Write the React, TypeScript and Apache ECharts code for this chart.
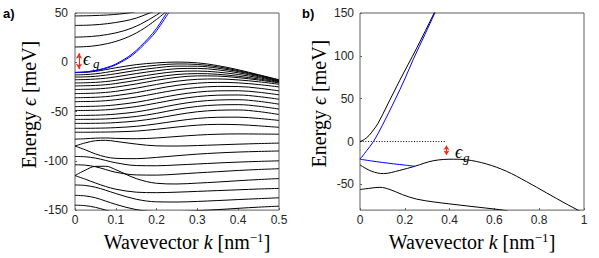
import React, { useEffect, useRef } from "react";
import * as echarts from "echarts";

// ---------- Panel a) data ----------
const K_A = [0, 0.025, 0.05, 0.075, 0.1, 0.15, 0.2, 0.25, 0.3, 0.35, 0.4, 0.45, 0.5];

const VALENCE_A: number[][] = [
  [-10.5, -10.2, -9.2, -7.5, -5.6, -2.4, -0.6, 0.2, -0.6, -3.4, -7.6, -12.6, -17.7],
  [-12.8, -12.5, -11.7, -10.3, -8.6, -5.3, -3, -1.7, -2.2, -4.6, -8.5, -13.1, -18.2],
  [-15, -14.8, -14.2, -13.1, -11.6, -8.3, -5.6, -3.9, -4, -6, -9.4, -13.7, -18.7],
  [-17.7, -17.5, -17, -16.2, -14.8, -11.5, -8.6, -6.5, -6.2, -7.7, -10.7, -14.5, -19.2],
  [-21, -20.8, -20.4, -19.6, -18.3, -15, -11.8, -9.4, -8.9, -10, -12.4, -15.6, -19.7],
  [-24, -23.8, -23.5, -22.8, -21.6, -18.4, -15, -12.4, -11.5, -12.2, -14.2, -16.9, -20.3],
  [-27.6, -27.4, -27.1, -26.4, -25.2, -22, -18.3, -15.3, -13.8, -14, -15.6, -18, -21],
  [-31.8, -31.6, -31.3, -30.6, -29.5, -26.3, -22.5, -19.2, -17.3, -16.9, -17.9, -19.8, -22.3],
  [-36, -35.8, -35.5, -34.9, -33.8, -30.8, -26.9, -23.4, -21.2, -20.4, -20.9, -22.6, -25],
  [-40, -39.8, -39.6, -39, -38, -35.3, -31.6, -28, -25.6, -24.5, -24.6, -26.3, -29],
  [-45, -44.8, -44.6, -44.1, -43.2, -40.6, -36.8, -33, -30.3, -29, -28.9, -30.4, -33],
  [-49, -48.9, -48.7, -48.3, -47.4, -45, -41.4, -37.6, -34.8, -33.4, -33.2, -34.8, -37.5],
  [-54, -53.9, -53.7, -53.3, -52.6, -50.4, -46.8, -42.8, -39.8, -38.3, -38, -39.6, -42.5],
  [-58, -57.9, -57.8, -57.5, -56.9, -55, -51.8, -47.8, -44.8, -43.3, -43, -44.6, -47.5],
  [-62, -62, -61.9, -61.7, -61.2, -59.6, -56.8, -53.2, -50.2, -48.7, -48.4, -50, -53],
  [-67, -67, -66.9, -66.7, -66.3, -65, -62.5, -59.5, -57, -55.8, -55.7, -57, -59],
  [-71, -71, -70.9, -70.8, -70.6, -69.8, -68, -65.7, -63.8, -63, -63.3, -64.5, -66],
  [-78, -77.6, -77, -76.8, -77.2, -77.6, -76.8, -75.3, -73.9, -73, -72.7, -72.8, -73],
  [-85, -81.8, -79.6, -79.2, -80.3, -83, -84.8, -85, -84.5, -83.8, -83.1, -82.5, -82],
  [-85, -88.8, -93, -96, -97.5, -97.8, -96.5, -94.8, -93.2, -92, -91.1, -90.5, -90],
  [-95.6, -95.9, -97.2, -99.6, -102, -104.8, -105, -104.2, -103.2, -102.2, -101.3, -100.6, -100],
  [-104, -104.4, -106, -108.8, -111.6, -114.3, -114.5, -113.5, -112.2, -111, -109.8, -108.8, -108],
  [-115, -109.5, -105.6, -105.5, -109, -118, -122.8, -123.5, -122.6, -121.5, -120.2, -119, -118],
  [-115, -118.6, -122.5, -126, -128.8, -131.8, -132.3, -131.8, -131, -130.2, -129.4, -128.6, -128],
  [-124.5, -125, -126.8, -129.8, -133.2, -139, -141.6, -141.8, -141.2, -140.3, -139.3, -138.4, -137.5],
  [-135, -135.6, -137.5, -140.8, -144.2, -149.5, -151.5, -151.5, -150.6, -149.5, -148.2, -147, -146],
  [-145, -145.5, -147.2, -150, -153.5, -160],
];

const CONDUCTION_A: [number, number][][] = [
  [[0, 47], [0.04, 47.3], [0.08, 48], [0.11, 49], [0.135, 50.3], [0.15, 51.5]],
  [[0, 37.4], [0.04, 37.8], [0.08, 39.2], [0.12, 41.8], [0.15, 44.8], [0.183, 50], [0.2, 52.5]],
  [[0, 25.5], [0.04, 26.2], [0.08, 28.2], [0.12, 32], [0.16, 38.5], [0.2, 48], [0.21, 50.8]],
  [[0, 15.5], [0.04, 16.3], [0.08, 19], [0.12, 24], [0.16, 32], [0.2, 43.5], [0.222, 51]],
];

const BLUE_A: [number, number][][] = [
  [[0, -10.3], [0.03, -9.6], [0.06, -7.4], [0.08, -5], [0.1, -1.8], [0.14, 8.5], [0.18, 24.5], [0.2, 34.5], [0.225, 50.5]],
  [[0, -10.3], [0.03, -9.7], [0.06, -7.7], [0.08, -5.6], [0.1, -2.6], [0.14, 7], [0.18, 22.5], [0.2, 32], [0.23, 50.5]],
];

// gap arrow (annotation) panel a: k, lower and upper energy of the tips
const GAP_A = { k: 0.0098, lo: -9.5, hi: 11.8 };

// ---------- Panel b) data ----------
const CONDUCTION_B: [number, number][] = [
  [0, 0], [0.02, 2.5], [0.04, 7], [0.06, 13.5], [0.08, 21], [0.12, 41.5], [0.178, 71.6], [0.253, 109], [0.331, 150], [0.34, 155],
];
const BLUE_COND_B: [number, number][] = [
  [0, -20.6], [0.03, -10.6], [0.06, 0], [0.1, 19], [0.156, 48.5], [0.2, 73], [0.238, 96], [0.29, 125], [0.334, 150], [0.34, 153.5],
];
const BLUE_VAL_B: [number, number][] = [
  [0, -20.6], [0.05, -22.6], [0.1, -24.4], [0.15, -26], [0.2, -27.5], [0.245, -28.8],
];
const VALENCE1_B: [number, number][] = [
  [0, -27.3], [0.052, -34.7], [0.104, -37.4], [0.178, -33.6], [0.245, -28.8], [0.327, -22.4], [0.416, -20.6],
  [0.476, -21.3], [0.565, -26.2], [0.654, -34.7], [0.743, -46.7], [0.832, -59.8], [0.921, -72.8], [0.98, -81], [1, -84],
];
const VALENCE2_B: [number, number][] = [
  [0, -56], [0.045, -54.5], [0.089, -53.4], [0.134, -56], [0.19, -62], [0.253, -67.2], [0.33, -70.5], [0.401, -72.8],
  [0.5, -75.8], [0.624, -79.5], [0.66, -81],
];
const DOTTED_B: [number, number][] = [[0, 0], [0.386, 0]];
const GAP_B = { k: 0.386, lo: -18.2, hi: -2.2 };

const Y_TICKS_B = [-50, 0, 50, 100, 150];

const RED = "#ee2a1f";
const BLUE = "#0000ff";
const FRAME = "#5e5e5e";
const SERIF = '"Liberation Serif", "DejaVu Serif", serif';
const SANS = '"Liberation Sans", Arial, Helvetica, sans-serif';

function line(data: any[], color: string, gi: number, extra: any = {}) {
  return {
    type: "line",
    data,
    xAxisIndex: gi,
    yAxisIndex: gi,
    symbol: "none",
    showSymbol: false,
    smooth: 0.35,
    silent: true,
    lineStyle: { color, width: 1 },
    z: 2,
    ...extra,
  };
}

// inset: energy distance from tip to arrow-head centre
function arrowMark(gap: { k: number; lo: number; hi: number }, inset: number, size: number[]) {
  return {
    silent: true,
    symbol: ["arrow", "arrow"],
    symbolSize: size,
    label: { show: false },
    emphasis: { disabled: true },
    lineStyle: { color: RED, width: 1.2, type: "solid" },
    itemStyle: { color: RED },
    data: [[{ coord: [gap.k, gap.lo + inset] }, { coord: [gap.k, gap.hi - inset] }]],
  };
}

const nameX = {
  fontFamily: SERIF,
  fontSize: 20,
  color: "#000",
  lineHeight: 22,
  rich: {
    i: { fontFamily: SERIF, fontSize: 20, fontStyle: "italic", color: "#000", lineHeight: 22 },
    s: { fontFamily: SERIF, fontSize: 13, color: "#000", verticalAlign: "top", lineHeight: 13 },
  },
};
const nameY = {
  fontFamily: SERIF,
  fontSize: 20,
  color: "#000",
  lineHeight: 22,
  rich: {
    i: { fontFamily: SERIF, fontSize: 20, fontStyle: "italic", color: "#000", lineHeight: 22 },
  },
};

function xAxis(gi: number, max: number, interval: number, extra: any = {}) {
  return {
    type: "value",
    gridIndex: gi,
    min: 0,
    max,
    interval,
    axisLine: { show: false, onZero: false },
    axisTick: { show: true, inside: true, length: 2, lineStyle: { color: FRAME } },
    axisLabel: { color: "#262626", fontFamily: SANS, fontSize: 12, margin: 4 },
    splitLine: { show: false },
    name: "Wavevector {i|k} [nm{s|−1}]",
    nameLocation: "middle",
    nameGap: 18,
    nameTextStyle: nameX,
    ...extra,
  };
}

export default function App() {
  const ref = useRef<HTMLDivElement>(null);
  useEffect(() => {
    if (!ref.current) return;
    const chart = echarts.init(ref.current, undefined, { renderer: "svg" });

    const series: any[] = [];
    VALENCE_A.forEach((vals) => {
      series.push(line(vals.map((v, i) => [K_A[i], v]), "#000", 0));
    });
    CONDUCTION_A.forEach((d) => series.push(line(d, "#000", 0)));
    BLUE_A.forEach((d, i) =>
      series.push(line(d, BLUE, 0, i === 0 ? { z: 3, markLine: arrowMark(GAP_A, 2.6, [5, 5.5]) } : { z: 3 }))
    );

    series.push(line(CONDUCTION_B, "#000", 1));
    series.push(line(VALENCE1_B, "#000", 1));
    series.push(line(VALENCE2_B, "#000", 1));
    series.push(line(BLUE_COND_B, BLUE, 1, { z: 3 }));
    series.push(line(BLUE_VAL_B, BLUE, 1, { z: 3 }));
    series.push(
      line(DOTTED_B, "#000", 1, {
        smooth: false,
        lineStyle: { color: "#000", width: 1, type: [1, 1.7] },
        markLine: arrowMark(GAP_B, 2.5, [4.5, 4.5]),
      })
    );

    chart.setOption({
      animation: false,
      backgroundColor: "#fff",
      grid: [
        { left: 75, top: 13, width: 204, height: 203.5, show: true, borderColor: FRAME, borderWidth: 1, backgroundColor: "transparent" },
        { left: 360, top: 13, width: 224, height: 206, show: true, borderColor: FRAME, borderWidth: 1, backgroundColor: "transparent" },
      ],
      xAxis: [
        xAxis(0, 0.5, 0.1, { nameTextStyle: { ...nameX, padding: [0, 0, 0, 20] } }),
        xAxis(1, 1, 0.2),
      ],
      yAxis: [
        {
          type: "value",
          gridIndex: 0,
          min: -150,
          max: 50,
          interval: 50,
          axisLine: { show: false, onZero: false },
          axisTick: { show: true, inside: true, length: 2, lineStyle: { color: FRAME } },
          axisLabel: { color: "#262626", fontFamily: SANS, fontSize: 12, margin: 7 },
          splitLine: { show: false },
          name: "Energy {i|ϵ} [meV]",
          nameLocation: "middle",
          nameRotate: 90,
          nameGap: 21,
          nameTextStyle: { ...nameY, padding: [0, 0, 0, 14] },
        },
        {
          type: "value",
          gridIndex: 1,
          min: -80,
          max: 150,
          axisLine: { show: false, onZero: false },
          axisTick: { show: true, inside: true, length: 2, customValues: Y_TICKS_B, lineStyle: { color: FRAME } },
          axisLabel: { color: "#262626", fontFamily: SANS, fontSize: 12, margin: 6, customValues: Y_TICKS_B },
          splitLine: { show: false },
          name: "Energy {i|ϵ} [meV]",
          nameLocation: "middle",
          nameRotate: 90,
          nameGap: 22,
          nameTextStyle: { ...nameY, padding: [0, 0, 0, 16] },
        },
      ],
      graphic: [
        { type: "text", x: 3, y: 13, style: { text: "a)", fontFamily: SANS, fontWeight: "bold", fontSize: 13, fill: "#000", verticalAlign: "middle" } },
        { type: "text", x: 302, y: 13, style: { text: "b)", fontFamily: SANS, fontWeight: "bold", fontSize: 13, fill: "#000", verticalAlign: "middle" } },
        { type: "text", x: 83, y: 59, style: { text: "ϵ", fontFamily: SERIF, fontStyle: "italic", fontSize: 18, fill: "#000", verticalAlign: "middle" } },
        { type: "text", x: 93, y: 63.6, style: { text: "g", fontFamily: SERIF, fontStyle: "italic", fontSize: 13, fill: "#000", verticalAlign: "middle" } },
        { type: "text", x: 455, y: 152.2, style: { text: "ϵ", fontFamily: SERIF, fontStyle: "italic", fontSize: 18, fill: "#000", verticalAlign: "middle" } },
        { type: "text", x: 463, y: 157.2, style: { text: "g", fontFamily: SERIF, fontStyle: "italic", fontSize: 13, fill: "#000", verticalAlign: "middle" } },
      ],
      series,
    });
    return () => chart.dispose();
  }, []);
  return (
    <div
      ref={ref}
      style={{ position: "fixed", left: 0, top: 0, width: 599, height: 258, background: "#fff" }}
    />
  );
}
